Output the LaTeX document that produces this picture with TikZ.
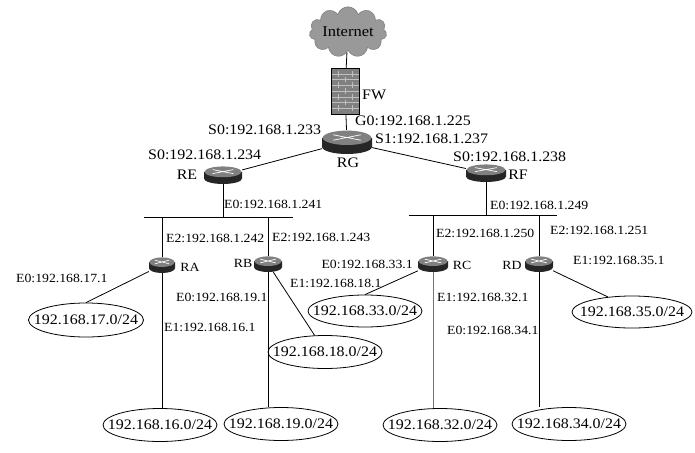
\documentclass[tikz,border=0pt]{standalone}
\usepackage{fontspec}
\setmainfont{Liberation Serif}[FakeStretch=1.1]
\usetikzlibrary{shapes.geometric,shapes.symbols}
\newcommand\netname[1]{\makebox[0pt]{#1}}
\begin{document}
\begin{tikzpicture}[x=1pt,y=-1pt,
  lbl/.style={inner sep=0pt,font=\fontsize{12.5}{14}\selectfont},
  big/.style={inner sep=0pt,font=\fontsize{14.5}{16}\selectfont},
  net/.style={draw,ellipse,inner sep=0pt,minimum width=114pt,minimum height=33pt,line width=0.8pt,font=\fontsize{14.5}{16}\selectfont},
  link/.style={line width=0.8pt},
  router/.style 2 args={inner sep=0pt,minimum width=2*#1pt,minimum height=2*#2pt,
    path picture={\begin{scope}[shift={(path picture bounding box.center)},x=#1pt,y=#2pt]
      \fill[black!85] (-1,0.35) -- (-1,-0.4) arc[start angle=180,end angle=360,x radius=1,y radius=0.6] -- (1,0.35) -- cycle;
      \fill[black!50] (0,0.35) ellipse[x radius=0.97,y radius=0.6];
      \draw[white,line width=0.7pt] (-0.55,0.15) -- (0.55,0.6) (-0.55,0.6) -- (0.55,0.15);
    \end{scope}}}]
\fill[white] (0,0) rectangle (695,452);
\useasboundingbox (0,0) rectangle (695,452);
\node[cloud,cloud puffs=11,aspect=2,draw=black!55,fill=black!40,minimum width=72pt,minimum height=38pt,inner sep=0pt,font=\fontsize{15}{16}\selectfont] (inet) at (348,32) {Internet};
\node[draw,fill=black!50,minimum width=28pt,minimum height=46pt,inner sep=0pt,
  path picture={\begin{scope}[shift={(path picture bounding box.center)},x=14pt,y=23pt]
    \foreach \h in {-0.75,-0.5,...,0.8} \draw[black!25] (-1,\h) -- (1,\h);
    \foreach \h in {-0.875,-0.375,...,0.8} \foreach \w in {-0.5,0.5} \draw[black!25] (\w,\h) -- ++(0,0.25);
    \foreach \h in {-0.625,-0.125,...,0.8} \foreach \w in {-1,0,1} \draw[black!25] (\w,\h) -- ++(0,0.25);
  \end{scope}}] (fw) at (345,91) {};
\node[big,anchor=west] (fwl) at (362,95) {FW};
\node[router={25}{12}] (rg) at (347,142) {};
\node[router={19}{9}] (re) at (223,175) {};
\node[router={20}{9}] (rf) at (486,173) {};
\node[router={13}{8}] (ra) at (162,265) {};
\node[router={14}{8}] (rb) at (268,264) {};
\node[router={15}{8}] (rc) at (433,264) {};
\node[router={14}{8}] (rd) at (539,264) {};
\node[big] (rgl) at (348,163) {RG};
\node[big] (rel) at (187,175) {RE};
\node[big] (rfl) at (518,175) {RF};
\node[lbl] (ral) at (190,267) {RA};
\node[lbl] (rbl) at (243,263) {RB};
\node[lbl] (rcl) at (462,265) {RC};
\node[lbl] (rdl) at (512,265) {RD};
\node[big,anchor=west] at (355,121) {G0:192.168.1.225};
\node[big,anchor=west] at (208,130) {S0:192.168.1.233};
\node[big,anchor=west] at (375,139) {S1:192.168.1.237};
\node[big,anchor=west] at (148,155) {S0:192.168.1.234};
\node[big,anchor=west] at (453,157) {S0:192.168.1.238};
\node[lbl,anchor=west] at (224,204) {E0:192.168.1.241};
\node[lbl,anchor=west] at (490,205) {E0:192.168.1.249};
\node[lbl,anchor=west] at (166,238) {E2:192.168.1.242};
\node[lbl,anchor=west] at (272,237) {E2:192.168.1.243};
\node[lbl,anchor=west] at (436,233) {E2:192.168.1.250};
\node[lbl,anchor=west] at (550,230) {E2:192.168.1.251};
\node[lbl,anchor=west] at (16,278) {E0:192.168.17.1};
\node[lbl,anchor=west] at (176,297) {E0:192.168.19.1};
\node[lbl,anchor=west] at (164,327) {E1:192.168.16.1};
\node[lbl,anchor=west] at (290,283) {E1:192.168.18.1};
\node[lbl,anchor=east] at (413,264) {E0:192.168.33.1};
\node[lbl,anchor=west] at (437,297) {E1:192.168.32.1};
\node[lbl,anchor=west] at (447,330) {E0:192.168.34.1};
\node[lbl,anchor=west] at (573,260) {E1:192.168.35.1};
\node[net,minimum width=115pt,minimum height=34pt] (n17) at (86,320) {\netname{192.168.17.0/24}};
\node[net] (n18) at (325,352) {\netname{192.168.18.0/24}};
\node[net,minimum height=32pt] (n33) at (365,311) {\netname{192.168.33.0/24}};
\node[net,minimum width=120pt,minimum height=32pt] (n35) at (632,312) {\netname{192.168.35.0/24}};
\node[net] (n16) at (160,425) {\netname{192.168.16.0/24}};
\node[net] (n19) at (281,424) {\netname{192.168.19.0/24}};
\node[net] (n32) at (440,425) {\netname{192.168.32.0/24}};
\node[net] (n34) at (569,424) {\netname{192.168.34.0/24}};
\coordinate (busl1) at (144,217);
\coordinate (busl2) at (293,217);
\coordinate (busr1) at (409,215);
\coordinate (busr2) at (557,215);
\draw[link] (inet) -- (fw);
\draw[link] (fw) -- (rg);
\draw[link] (rg) -- (re);
\draw[link] (rg) -- (rf);
\draw[link] (busl1) -- (busl2);
\draw[link] (busr1) -- (busr2);
\draw[link] (re) -- (re |- busl1);
\draw[link] (rf) -- (rf |- busr1);
\draw[link] (ra |- busl1) -- (ra);
\draw[link] (rb |- busl1) -- (rb);
\draw[link] (rc |- busr1) -- (rc);
\draw[link] (rd |- busr1) -- (rd);
\draw[link] (ra) -- (ra |- n16.north);
\draw[link] (rb) -- (rb |- n19.north);
\draw[link,black!55] (rc) -- (rc |- n32.north);
\draw[link] (rd) -- (rd |- n34.north);
\draw[link] (ra) -- (n17.north);
\draw[link] (rb) -- (n18.122);
\draw[link] (rc) -- (n33.north);
\draw[link] (rd) -- (n35.148);
\end{tikzpicture}
\end{document}
